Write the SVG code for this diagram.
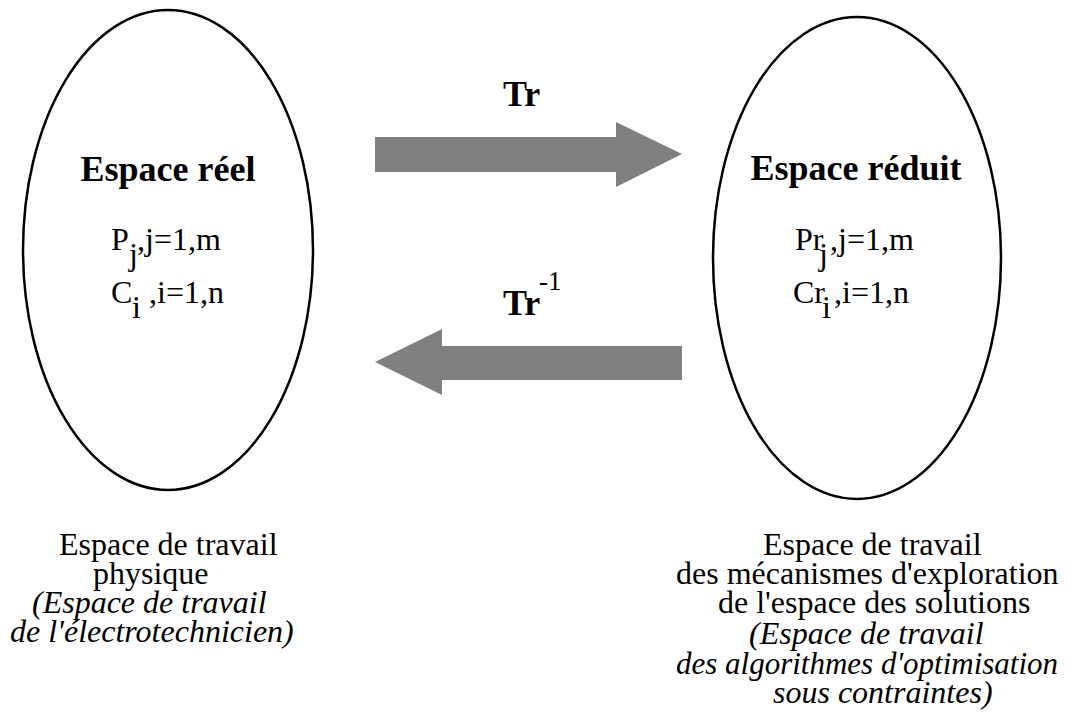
<svg xmlns="http://www.w3.org/2000/svg" width="1076" height="722" viewBox="0 0 1076 722" font-family="'Liberation Serif', 'DejaVu Serif', 'Times New Roman', serif">
<style>
.ell{fill:none;stroke:#000;stroke-width:2.5}
.arr{fill:#808080;stroke:none}
.t{font-family:'Liberation Serif','DejaVu Serif','Times New Roman',serif;fill:#000}
.title{font-size:36px;font-weight:bold}
.var{font-size:32px}
.cap{font-size:32px}
.it{font-style:italic}
</style>
<rect width="1076" height="722" fill="#fff"/>
<g id="espace-reel">
<ellipse class="ell" cx="168" cy="250" rx="145" ry="240"/>
<text class="t title" x="168" y="181" text-anchor="middle">Espace réel</text>
<text class="t var" y="250"><tspan x="111">P</tspan><tspan x="129" y="265">j</tspan><tspan x="137" y="250">,j=1,m</tspan></text>
<text class="t var" y="303"><tspan x="111">C</tspan><tspan x="132" y="318">i</tspan><tspan x="141" y="303"> ,i=1,n</tspan></text>
</g>
<g id="espace-reduit">
<ellipse class="ell" cx="857" cy="258" rx="144" ry="241"/>
<text class="t title" x="856" y="180" text-anchor="middle">Espace réduit</text>
<text class="t var" y="250"><tspan x="795">Pr</tspan><tspan x="819" y="265">j</tspan><tspan x="830" y="250">,j=1,m</tspan></text>
<text class="t var" y="303"><tspan x="793">Cr</tspan><tspan x="822" y="318">i</tspan><tspan x="834" y="303">,i=1,n</tspan></text>
</g>
<g id="connectors">
<polygon class="arr" points="375,137 616,137 616,122 682,154 616,187 616,172 375,172"/>
<polygon class="arr" points="682,346 442,346 442,329 375,362 442,395 442,380 682,380"/>
<text class="t title" x="503" y="106">Tr</text>
<text class="t title" x="503" y="315">Tr</text>
<text class="t" x="539" y="290" font-size="27">-1</text>
</g>
<g id="caption-left">
<text class="t cap" x="59" y="555">Espace de travail</text>
<text class="t cap" x="93" y="584">physique</text>
<text class="t cap it" x="32" y="613">(Espace de travail</text>
<text class="t cap it" x="10" y="642">de l'électrotechnicien)</text>
</g>
<g id="caption-right">
<text class="t cap" x="763" y="555">Espace de travail</text>
<text class="t cap" x="676" y="584">des mécanismes d'exploration</text>
<text class="t cap" x="718" y="613">de l'espace des solutions</text>
<text class="t cap it" x="749" y="644">(Espace de travail</text>
<text class="t it" x="676" y="674" font-size="31">des algorithmes d'optimisation</text>
<text class="t cap it" x="773" y="703">sous contraintes)</text>
</g>
</svg>
